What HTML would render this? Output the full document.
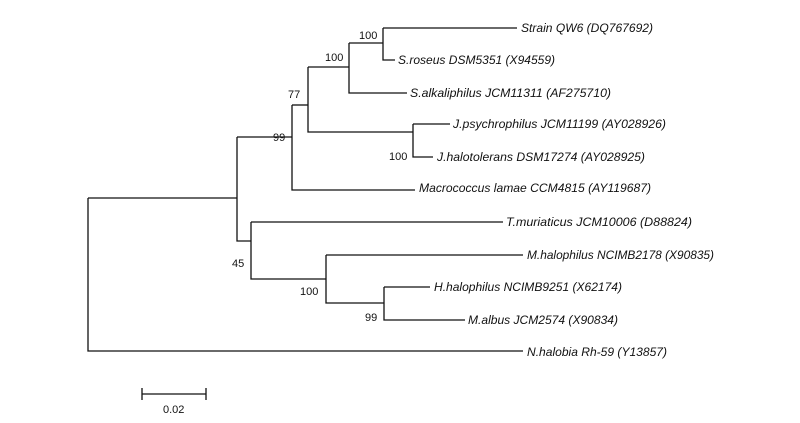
<!DOCTYPE html>
<html><head><meta charset="utf-8"><style>
html,body{margin:0;padding:0;background:#fff;}
svg{display:block}
.t{font-family:"Liberation Sans",sans-serif;font-style:italic;font-size:12px;fill:#111}
.n{font-family:"Liberation Sans",sans-serif;font-size:11px;fill:#111}
</style></head><body>
<svg width="800" height="423" viewBox="0 0 800 423" xmlns="http://www.w3.org/2000/svg">
<g stroke="#111" stroke-width="1.3" fill="none">
<path d="M88,198V351H523"/>
<path d="M88,198H237"/>
<path d="M237,137V241H251"/>
<path d="M237,137H292"/>
<path d="M292,105V190H415"/>
<path d="M292,105H308"/>
<path d="M308,67V132H413"/>
<path d="M308,67H349"/>
<path d="M349,43V93H407"/>
<path d="M349,43H383"/>
<path d="M383,28V60H395M383,28H517"/>
<path d="M413,124V157H433M413,124H450"/>
<path d="M251,222V279H326"/>
<path d="M251,222H503"/>
<path d="M326,255V303H384"/>
<path d="M326,255H523"/>
<path d="M384,287V320H465M384,287H430"/>
<path d="M142,394H206M142,388V400M206,388V400"/>
</g>
<g class="t">
<text x="521" y="32" textLength="132" lengthAdjust="spacingAndGlyphs">Strain QW6 (DQ767692)</text>
<text x="398" y="64" textLength="157" lengthAdjust="spacingAndGlyphs">S.roseus DSM5351 (X94559)</text>
<text x="410" y="97" textLength="201" lengthAdjust="spacingAndGlyphs">S.alkaliphilus JCM11311 (AF275710)</text>
<text x="453" y="128" textLength="213" lengthAdjust="spacingAndGlyphs">J.psychrophilus JCM11199 (AY028926)</text>
<text x="437" y="161" textLength="208" lengthAdjust="spacingAndGlyphs">J.halotolerans DSM17274 (AY028925)</text>
<text x="419" y="192" textLength="232" lengthAdjust="spacingAndGlyphs">Macrococcus lamae CCM4815 (AY119687)</text>
<text x="506" y="226" textLength="186" lengthAdjust="spacingAndGlyphs">T.muriaticus JCM10006 (D88824)</text>
<text x="527" y="259" textLength="187" lengthAdjust="spacingAndGlyphs">M.halophilus NCIMB2178 (X90835)</text>
<text x="434" y="291" textLength="188" lengthAdjust="spacingAndGlyphs">H.halophilus NCIMB9251 (X62174)</text>
<text x="468" y="324" textLength="150" lengthAdjust="spacingAndGlyphs">M.albus JCM2574 (X90834)</text>
<text x="527" y="356" textLength="140" lengthAdjust="spacingAndGlyphs">N.halobia Rh-59 (Y13857)</text>
</g>
<g class="n">
<text x="359" y="39">100</text>
<text x="325" y="61">100</text>
<text x="288" y="98">77</text>
<text x="273" y="141">99</text>
<text x="389" y="160">100</text>
<text x="232" y="267">45</text>
<text x="300" y="295">100</text>
<text x="365" y="321">99</text>
<text x="163" y="413">0.02</text>
</g>
</svg>
</body></html>
